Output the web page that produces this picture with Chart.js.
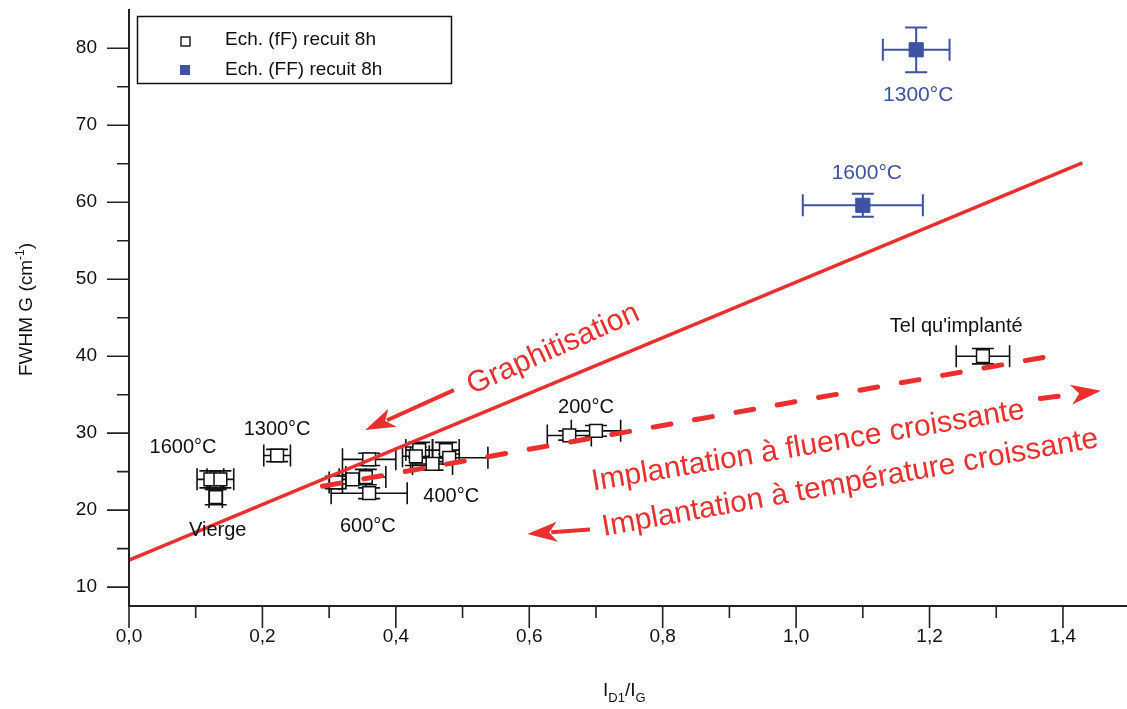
<!DOCTYPE html>
<html>
<head>
<meta charset="utf-8">
<script src="https://cdn.jsdelivr.net/npm/chart.js@4.4.1/dist/chart.umd.min.js"></script>
<style>
  html, body { margin: 0; padding: 0; background: #fff; overflow: hidden; }
  #wrap { width: 1127px; height: 709px; position: relative; }
</style>
</head>
<body>
<div id="wrap"><canvas id="chart"></canvas></div>
<script>
// --- data ---
const xTicks = [0, 0.2, 0.4, 0.6, 0.8, 1.0, 1.2, 1.4];
const xMinorTicks = [0.1, 0.3, 0.5, 0.7, 0.9, 1.1, 1.3];
const yTicks = [10, 20, 30, 40, 50, 60, 70, 80];
const yMinorTicks = [15, 25, 35, 45, 55, 65, 75];

// Ech. (fF) recuit 8h
const fFx    = [0.13, 0.122, 0.137, 0.222, 0.31, 0.335, 0.355, 0.36, 0.36, 0.435, 0.475, 0.48, 0.455, 0.43, 0.66, 0.70, 1.28];
const fFy    = [21.7, 24.0, 24.0, 27.1, 23.6, 24.0, 24.3, 26.6, 22.2, 27.8, 27.8, 26.8, 26.0, 27.0, 29.7, 30.3, 40.0];
const fFxErr = [0.01, 0.02, 0.02, 0.02, 0.01, 0.02, 0.03, 0.04, 0.057, 0.02, 0.02, 0.058, 0.03, 0.02, 0.033, 0.037, 0.04];
const fFyErr = [1.0, 1.1, 1.1, 0.8, 0.8, 0.6, 1.0, 0.8, 0.7, 1.0, 1.0, 0.5, 0.8, 1.2, 0.6, 0.7, 1.0];

// Ech. (FF) recuit 8h
const FFx    = [1.18, 1.10];
const FFy    = [79.8, 59.6];
const FFxErr = [0.05, 0.09];
const FFyErr = [2.9, 1.5];

// red guide lines
const fitX = [0, 1.429];
const fitY = [13.5, 65.1];
const trendX = [0.29, 1.40];
const trendY = [23.1, 40.3];

// labels (data coordinates)
const blackLabels = ['1600°C', '1300°C', 'Vierge', '600°C', '400°C', '200°C', "Tel qu'implanté"];
const blackLabelX = [0.081, 0.222, 0.133, 0.358, 0.483, 0.685, 1.240];
const blackLabelY = [28.1, 30.5, 17.4, 17.9, 21.8, 33.4, 43.9];
const blueLabels = ['1300°C', '1600°C'];
const blueLabelX = [1.183, 1.106];
const blueLabelY = [73.9, 63.8];

const redTexts = ['Graphitisation', 'Implantation à fluence croissante', 'Implantation à température croissante'];
const redTextX = [0.636, 1.018, 1.081];
const redTextY = [40.9, 28.3, 23.5];
const redTextAngle = [-24, -9.5, -10.2];

// arrows: tail -> tip
const arrowTailX = [0.487, 1.366, 0.691];
const arrowTailY = [35.6, 34.5, 17.5];
const arrowTipX  = [0.354, 1.457, 0.597];
const arrowTipY  = [30.4, 35.5, 16.9];
const arrowDashed = [false, true, false];

const RED = '#e8312f';
const BLUE = '#3e52a2';
const FONT = '"Liberation Sans", Arial, sans-serif';

const toPts = (xs, ys) => xs.map((x, i) => ({ x, y: ys[i] }));

const overlay = {
  id: 'overlay',
  beforeDatasetsDraw(chart) {
    const { ctx, scales: { x, y } } = chart;
    const bars = (xs, ys, xe, ye, color, lw) => {
      ctx.save();
      ctx.strokeStyle = color;
      ctx.lineWidth = lw;
      const cap = 11;
      xs.forEach((v, i) => {
        const px = x.getPixelForValue(v), py = y.getPixelForValue(ys[i]);
        const x1 = x.getPixelForValue(v - xe[i]), x2 = x.getPixelForValue(v + xe[i]);
        const y1 = y.getPixelForValue(ys[i] - ye[i]), y2 = y.getPixelForValue(ys[i] + ye[i]);
        ctx.beginPath();
        ctx.moveTo(x1, py); ctx.lineTo(x2, py);
        ctx.moveTo(x1, py - cap); ctx.lineTo(x1, py + cap);
        ctx.moveTo(x2, py - cap); ctx.lineTo(x2, py + cap);
        ctx.moveTo(px, y1); ctx.lineTo(px, y2);
        ctx.moveTo(px - cap, y1); ctx.lineTo(px + cap, y1);
        ctx.moveTo(px - cap, y2); ctx.lineTo(px + cap, y2);
        ctx.stroke();
      });
      ctx.restore();
    };
    bars(fFx, fFy, fFxErr, fFyErr, '#111', 1.6);
    bars(FFx, FFy, FFxErr, FFyErr, BLUE, 2);
  },
  afterDraw(chart) {
    const { ctx, chartArea: a, scales: { x, y } } = chart;
    ctx.save();
    // axes
    ctx.strokeStyle = '#222';
    ctx.lineWidth = 2;
    ctx.beginPath();
    ctx.moveTo(a.left, a.top); ctx.lineTo(a.left, a.bottom);
    ctx.moveTo(a.left - 1, a.bottom); ctx.lineTo(a.right, a.bottom);
    ctx.stroke();
    ctx.lineWidth = 1.6;
    ctx.beginPath();
    xTicks.forEach(v => { const p = x.getPixelForValue(v); ctx.moveTo(p, a.bottom); ctx.lineTo(p, a.bottom + 22); });
    xMinorTicks.forEach(v => { const p = x.getPixelForValue(v); ctx.moveTo(p, a.bottom); ctx.lineTo(p, a.bottom + 12); });
    yTicks.forEach(v => { const p = y.getPixelForValue(v); ctx.moveTo(a.left, p); ctx.lineTo(a.left - 22, p); });
    yMinorTicks.forEach(v => { const p = y.getPixelForValue(v); ctx.moveTo(a.left, p); ctx.lineTo(a.left - 12, p); });
    ctx.stroke();

    // axis titles
    ctx.fillStyle = '#111';
    ctx.textBaseline = 'alphabetic';
    ctx.textAlign = 'left';
    let tx = 603, ty = 696;
    const part = (t, f, dy) => { ctx.font = f; ctx.fillText(t, tx, ty + dy); tx += ctx.measureText(t).width; };
    part('I', '19px ' + FONT, 0);
    part('D1', '13px ' + FONT, 6);
    part('/I', '19px ' + FONT, 0);
    part('G', '13px ' + FONT, 6);

    ctx.save();
    ctx.translate(32, 376);
    ctx.rotate(-Math.PI / 2);
    tx = 0; ty = 0;
    part('FWHM G (cm', '19px ' + FONT, 0);
    part('-1', '12px ' + FONT, -8);
    part(')', '19px ' + FONT, 0);
    ctx.restore();

    // legend
    ctx.strokeStyle = '#111';
    ctx.lineWidth = 1.5;
    ctx.strokeRect(137.5, 16.5, 314, 67);
    ctx.fillStyle = '#fff';
    ctx.fillRect(181, 37, 9, 9);
    ctx.lineWidth = 1.4;
    ctx.strokeRect(181, 37, 9, 9);
    ctx.fillStyle = BLUE;
    ctx.fillRect(180, 65, 10, 10);
    ctx.fillStyle = '#111';
    ctx.font = '19px ' + FONT;
    ctx.textBaseline = 'middle';
    ctx.fillText(chart.data.datasets[0].label, 225, 40);
    ctx.fillText(chart.data.datasets[1].label, 225, 70);

    // point labels
    ctx.textAlign = 'center';
    ctx.font = '20px ' + FONT;
    blackLabels.forEach((t, i) => ctx.fillText(t, x.getPixelForValue(blackLabelX[i]), y.getPixelForValue(blackLabelY[i])));
    ctx.fillStyle = BLUE;
    ctx.font = '21px ' + FONT;
    blueLabels.forEach((t, i) => ctx.fillText(t, x.getPixelForValue(blueLabelX[i]), y.getPixelForValue(blueLabelY[i])));

    // red rotated texts
    ctx.fillStyle = RED;
    ctx.font = '30px ' + FONT;
    redTexts.forEach((t, i) => {
      ctx.save();
      ctx.translate(x.getPixelForValue(redTextX[i]), y.getPixelForValue(redTextY[i]));
      ctx.rotate(redTextAngle[i] * Math.PI / 180);
      ctx.fillText(t, 0, 0);
      ctx.restore();
    });

    // arrows
    ctx.strokeStyle = RED;
    ctx.fillStyle = RED;
    arrowTailX.forEach((v, i) => {
      const x0 = x.getPixelForValue(v), y0 = y.getPixelForValue(arrowTailY[i]);
      const x1 = x.getPixelForValue(arrowTipX[i]), y1 = y.getPixelForValue(arrowTipY[i]);
      const ang = Math.atan2(y1 - y0, x1 - x0);
      const hl = 30, hw = 10;
      const bx = x1 - hl * Math.cos(ang), by = y1 - hl * Math.sin(ang);
      ctx.save();
      ctx.lineWidth = arrowDashed[i] ? 5 : 4;
      ctx.lineCap = arrowDashed[i] ? 'round' : 'butt';
      ctx.setLineDash(arrowDashed[i] ? [18, 24] : []);
      ctx.beginPath();
      ctx.moveTo(x0, y0);
      ctx.lineTo(bx + 6 * Math.cos(ang), by + 6 * Math.sin(ang));
      ctx.stroke();
      ctx.restore();
      ctx.beginPath();
      ctx.moveTo(x1, y1);
      ctx.lineTo(bx - hw * Math.sin(ang), by + hw * Math.cos(ang));
      ctx.lineTo(bx + 8 * Math.cos(ang), by + 8 * Math.sin(ang));
      ctx.lineTo(bx + hw * Math.sin(ang), by - hw * Math.cos(ang));
      ctx.closePath();
      ctx.fill();
    });
    ctx.restore();
  }
};

new Chart(document.getElementById('chart'), {
  type: 'scatter',
  data: {
    datasets: [
      {
        label: 'Ech. (fF) recuit 8h',
        data: toPts(fFx, fFy),
        pointStyle: 'rect',
        pointRadius: 9,
        backgroundColor: '#fff',
        borderColor: '#111',
        borderWidth: 1.5,
        order: 2
      },
      {
        label: 'Ech. (FF) recuit 8h',
        data: toPts(FFx, FFy),
        pointStyle: 'rect',
        pointRadius: 10,
        backgroundColor: BLUE,
        borderColor: BLUE,
        borderWidth: 1,
        order: 2
      },
      {
        label: 'fit',
        data: toPts(fitX, fitY),
        showLine: true,
        pointRadius: 0,
        borderColor: RED,
        borderWidth: 3.5,
        order: 0
      },
      {
        label: 'trend',
        data: toPts(trendX, trendY),
        showLine: true,
        pointRadius: 0,
        borderColor: RED,
        borderWidth: 5,
        borderDash: [18, 24],
        borderCapStyle: 'round',
        order: 0
      }
    ]
  },
  options: {
    responsive: true,
    maintainAspectRatio: false,
    animation: false,
    layout: { autoPadding: false, padding: { top: 9, right: 0, left: 0, bottom: 0 } },
    plugins: { legend: { display: false }, tooltip: { enabled: false } },
    scales: {
      x: {
        type: 'linear',
        min: 0,
        max: 1.496,
        afterBuildTicks: s => { s.ticks = xTicks.map(v => ({ value: v })); },
        afterFit: s => { s.height = 103; s.paddingLeft = 0; s.paddingRight = 0; },
        grid: { display: false, drawTicks: false },
        border: { display: false },
        ticks: {
          autoSkip: false,
          maxRotation: 0,
          padding: 19,
          color: '#111',
          font: { family: FONT, size: 19 },
          callback: v => v.toFixed(1).replace('.', ',')
        }
      },
      y: {
        type: 'linear',
        min: 7.55,
        max: 85.1,
        afterBuildTicks: s => { s.ticks = yTicks.map(v => ({ value: v })); },
        afterFit: s => { s.width = 129; s.paddingTop = 0; s.paddingBottom = 0; },
        grid: { display: false, drawTicks: false },
        border: { display: false },
        ticks: {
          padding: 32,
          color: '#111',
          font: { family: FONT, size: 19 },
          callback: v => String(v)
        }
      }
    }
  },
  plugins: [overlay]
});
</script>
</body>
</html>
